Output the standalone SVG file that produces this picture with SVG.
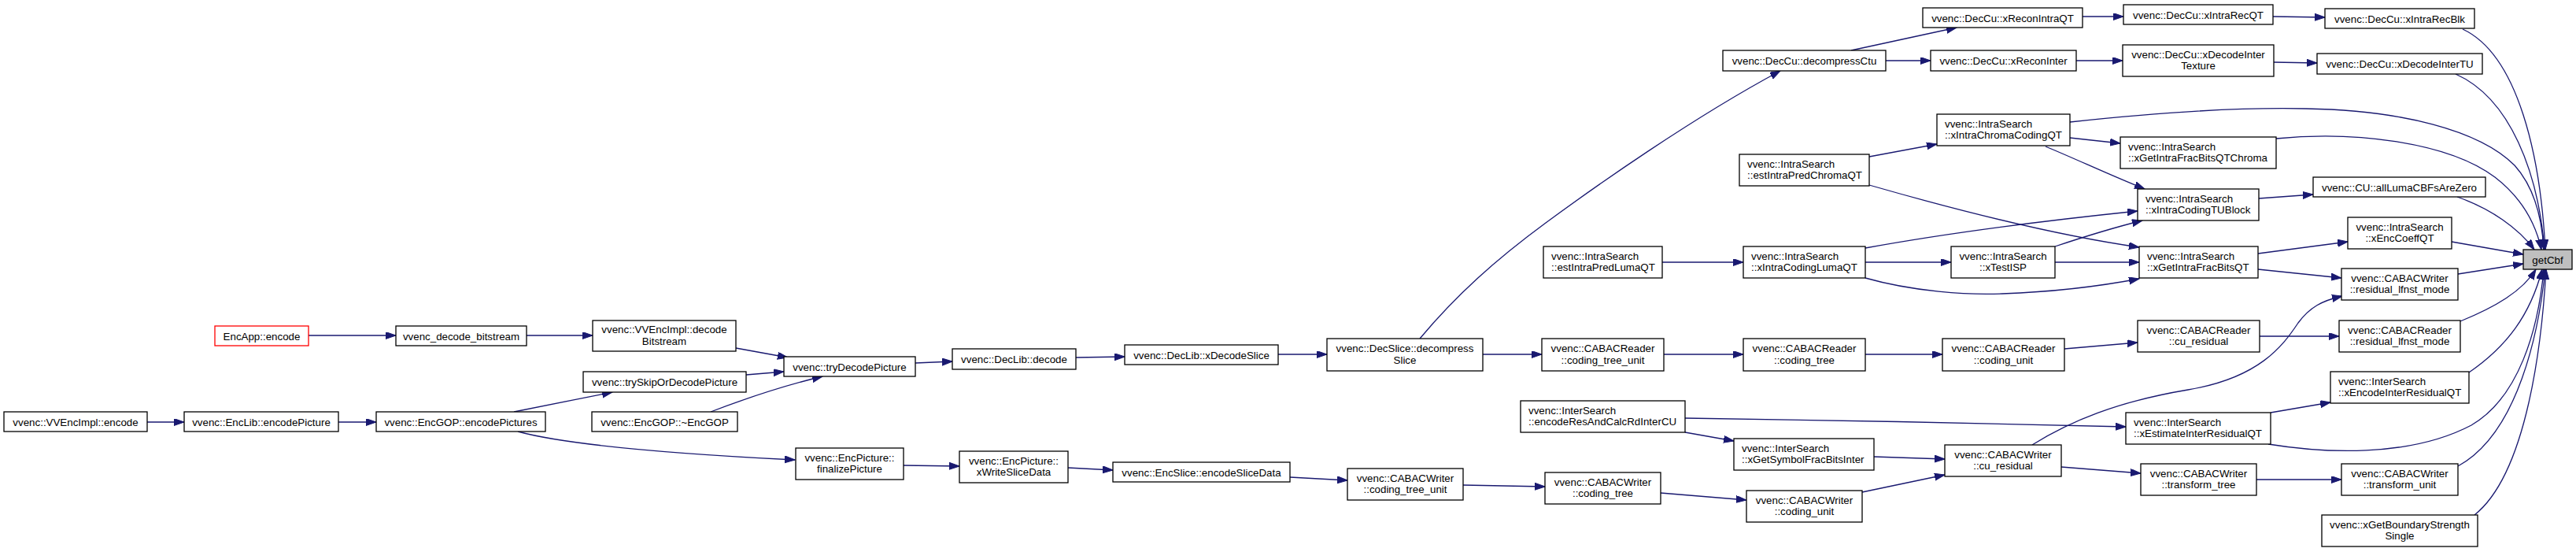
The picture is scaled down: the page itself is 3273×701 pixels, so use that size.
<svg xmlns="http://www.w3.org/2000/svg" width="3273" height="701" viewBox="0 0 3273 701">
<defs>
<style>
.n rect{fill:#fff;stroke:#000;stroke-width:1.3}
.n text{font-family:"Liberation Sans",Arial,sans-serif;font-size:13.33px;fill:#000}
.c{text-anchor:middle}
.e path{fill:none;stroke:#191970;stroke-width:1.3;marker-end:url(#arr)}
</style>
<marker id="arr" markerWidth="14" markerHeight="10" refX="13" refY="4.5" orient="auto" markerUnits="userSpaceOnUse"><path d="M0,0 L13,4.5 L0,9 z" fill="#191970" stroke="#191970" stroke-width="1"/></marker>
</defs>
<rect width="3273" height="701" fill="#fff"/>
<g class="e" id="connectors">
<path d="M392,426 L503,426"/>
<path d="M669,426 L753,426"/>
<path d="M935,442 L1001,454"/>
<path d="M948,476 L996,472"/>
<path d="M903,523 C950,505 995,490 1045,478"/>
<path d="M653,523 L778,498"/>
<path d="M658,548 C720,565 850,576 1010,584"/>
<path d="M186,536 L234,536"/>
<path d="M430,536 L478,536"/>
<path d="M1163,461 L1210,459"/>
<path d="M1367,454 L1429,453"/>
<path d="M1624,450 L1686,450"/>
<path d="M1804,430 C1850,375 1900,330 1964,283 S2150,150 2262,90"/>
<path d="M1884,450 L1959,450"/>
<path d="M1148,591 L1219,592"/>
<path d="M1357,594 L1414,597"/>
<path d="M1639,606 L1712,610"/>
<path d="M1859,616 L1963,618"/>
<path d="M2110,626 L2219,635"/>
<path d="M2366,625 L2471,603"/>
<path d="M2114,450 L2215,450"/>
<path d="M2370,450 L2468,450"/>
<path d="M2623,443 L2716,435"/>
<path d="M2871,427 L2972,427"/>
<path d="M3126,408 C3170,390 3205,370 3222,342"/>
<path d="M2141,549 L2203,560"/>
<path d="M2141,531 C2300,533 2550,538 2701,542"/>
<path d="M2381,580 L2471,583"/>
<path d="M2582,565 C2630,535 2690,510 2780,495 C2870,480 2900,440 2920,410 C2935,390 2950,382 2976,376"/>
<path d="M2619,593 L2720,601"/>
<path d="M2885,524 L2961,511"/>
<path d="M2882,564 C2950,575 3060,582 3140,540 C3200,505 3225,420 3232,342"/>
<path d="M3137,473 C3185,440 3215,400 3230,342"/>
<path d="M2867,609 L2975,609"/>
<path d="M3123,592 C3200,550 3226,420 3234,342"/>
<path d="M3144,654 C3212,600 3230,430 3235,342"/>
<path d="M3123,348 L3206,335"/>
<path d="M2869,342 L2975,353"/>
<path d="M2869,322 L2983,307"/>
<path d="M3115,307 L3206,323"/>
<path d="M2870,252 L2939,247"/>
<path d="M3122,250 C3165,265 3200,290 3220,317"/>
<path d="M3129,37 C3200,70 3228,200 3234,317"/>
<path d="M3120,94 C3190,125 3225,220 3233,317"/>
<path d="M2630,155 C2740,143 2840,136 2930,138 C3050,140 3150,165 3195,210 C3222,240 3230,280 3232,317"/>
<path d="M2892,176 C2990,166 3110,180 3170,225 C3205,252 3222,285 3229,317"/>
<path d="M2630,175 L2694,182"/>
<path d="M2599,186 C2640,203 2680,222 2725,240"/>
<path d="M2375,199 L2461,183"/>
<path d="M2375,235 C2490,268 2620,300 2718,314"/>
<path d="M2112,333 L2215,333"/>
<path d="M2370,333 L2479,333"/>
<path d="M2370,315 C2480,295 2600,280 2716,268"/>
<path d="M2370,353 C2430,370 2500,375 2544,373 C2600,371 2660,365 2718,354"/>
<path d="M2611,313 C2650,300 2690,288 2722,280"/>
<path d="M2611,333 L2718,333"/>
<path d="M2352,64 L2486,35"/>
<path d="M2396,77 L2453,77"/>
<path d="M2646,21 L2698,21"/>
<path d="M2888,21 L2954,22"/>
<path d="M2638,77 L2697,77"/>
<path d="M2889,79 L2944,80"/>
</g>
<g class="n" id="getCbf"><rect x="3206" y="317" width="62" height="25" style="fill:#bfbfbf"/><text class="c" x="3237" y="334.5">getCbf</text></g>
<g class="n" id="xIntraRecBlk"><rect x="2954" y="11" width="190" height="25"/><text class="c" x="3049" y="28.5">vvenc::DecCu::xIntraRecBlk</text></g>
<g class="n" id="xIntraRecQT"><rect x="2698" y="6" width="190" height="25"/><text class="c" x="2793" y="23.5">vvenc::DecCu::xIntraRecQT</text></g>
<g class="n" id="xReconIntraQT"><rect x="2443" y="10" width="203" height="25"/><text class="c" x="2544.5" y="27.5">vvenc::DecCu::xReconIntraQT</text></g>
<g class="n" id="decompressCtu"><rect x="2189" y="64" width="207" height="26"/><text class="c" x="2292.5" y="82">vvenc::DecCu::decompressCtu</text></g>
<g class="n" id="xReconInter"><rect x="2453" y="64" width="185" height="26"/><text class="c" x="2545.5" y="82">vvenc::DecCu::xReconInter</text></g>
<g class="n" id="xDecodeInterTexture"><rect x="2697" y="57" width="192" height="40"/><text class="c" x="2793" y="73.5">vvenc::DecCu::xDecodeInter</text><text class="c" x="2793" y="88">Texture</text></g>
<g class="n" id="xDecodeInterTU"><rect x="2944" y="68" width="210" height="26"/><text class="c" x="3049" y="86">vvenc::DecCu::xDecodeInterTU</text></g>
<g class="n" id="xIntraChromaCodingQT"><rect x="2461" y="145" width="169" height="40"/><text x="2471" y="161.5">vvenc::IntraSearch</text><text x="2471" y="176">::xIntraChromaCodingQT</text></g>
<g class="n" id="xGetIntraFracBitsQTChroma"><rect x="2694" y="174" width="198" height="40"/><text x="2704" y="190.5">vvenc::IntraSearch</text><text x="2704" y="205">::xGetIntraFracBitsQTChroma</text></g>
<g class="n" id="estIntraPredChromaQT"><rect x="2210" y="196" width="165" height="40"/><text x="2220" y="212.5">vvenc::IntraSearch</text><text x="2220" y="227">::estIntraPredChromaQT</text></g>
<g class="n" id="allLumaCBFsAreZero"><rect x="2939" y="225" width="219" height="25"/><text class="c" x="3048.5" y="242.5">vvenc::CU::allLumaCBFsAreZero</text></g>
<g class="n" id="xIntraCodingTUBlock"><rect x="2716" y="240" width="154" height="40"/><text x="2726" y="256.5">vvenc::IntraSearch</text><text x="2726" y="271">::xIntraCodingTUBlock</text></g>
<g class="n" id="xEncCoeffQT"><rect x="2983" y="276" width="132" height="40"/><text class="c" x="3049" y="292.5">vvenc::IntraSearch</text><text class="c" x="3049" y="307">::xEncCoeffQT</text></g>
<g class="n" id="estIntraPredLumaQT"><rect x="1961" y="313" width="151" height="40"/><text x="1971" y="329.5">vvenc::IntraSearch</text><text x="1971" y="344">::estIntraPredLumaQT</text></g>
<g class="n" id="xIntraCodingLumaQT"><rect x="2215" y="313" width="155" height="40"/><text x="2225" y="329.5">vvenc::IntraSearch</text><text x="2225" y="344">::xIntraCodingLumaQT</text></g>
<g class="n" id="xTestISP"><rect x="2479" y="313" width="132" height="40"/><text class="c" x="2545" y="329.5">vvenc::IntraSearch</text><text class="c" x="2545" y="344">::xTestISP</text></g>
<g class="n" id="xGetIntraFracBitsQT"><rect x="2718" y="313" width="151" height="40"/><text x="2728" y="329.5">vvenc::IntraSearch</text><text x="2728" y="344">::xGetIntraFracBitsQT</text></g>
<g class="n" id="cw_residual_lfnst_mode"><rect x="2975" y="341" width="148" height="40"/><text class="c" x="3049" y="357.5">vvenc::CABACWriter</text><text class="c" x="3049" y="372">::residual_lfnst_mode</text></g>
<g class="n" id="cr_cu_residual"><rect x="2716" y="407" width="155" height="40"/><text class="c" x="2793.5" y="423.5">vvenc::CABACReader</text><text class="c" x="2793.5" y="438">::cu_residual</text></g>
<g class="n" id="cr_residual_lfnst_mode"><rect x="2972" y="407" width="154" height="40"/><text class="c" x="3049" y="423.5">vvenc::CABACReader</text><text class="c" x="3049" y="438">::residual_lfnst_mode</text></g>
<g class="n" id="xEncodeInterResidualQT"><rect x="2961" y="472" width="176" height="40"/><text x="2971" y="488.5">vvenc::InterSearch</text><text x="2971" y="503">::xEncodeInterResidualQT</text></g>
<g class="n" id="xEstimateInterResidualQT"><rect x="2701" y="524" width="184" height="40"/><text x="2711" y="540.5">vvenc::InterSearch</text><text x="2711" y="555">::xEstimateInterResidualQT</text></g>
<g class="n" id="transform_tree"><rect x="2720" y="589" width="147" height="40"/><text class="c" x="2793.5" y="605.5">vvenc::CABACWriter</text><text class="c" x="2793.5" y="620">::transform_tree</text></g>
<g class="n" id="transform_unit"><rect x="2975" y="589" width="148" height="40"/><text class="c" x="3049" y="605.5">vvenc::CABACWriter</text><text class="c" x="3049" y="620">::transform_unit</text></g>
<g class="n" id="xGetBoundaryStrengthSingle"><rect x="2950" y="654" width="198" height="40"/><text class="c" x="3049" y="670.5">vvenc::xGetBoundaryStrength</text><text class="c" x="3049" y="685">Single</text></g>
<g class="n" id="cr_coding_tree_unit"><rect x="1959" y="430" width="155" height="41"/><text class="c" x="2036.5" y="447">vvenc::CABACReader</text><text class="c" x="2036.5" y="461.5">::coding_tree_unit</text></g>
<g class="n" id="cr_coding_tree"><rect x="2215" y="430" width="155" height="41"/><text class="c" x="2292.5" y="447">vvenc::CABACReader</text><text class="c" x="2292.5" y="461.5">::coding_tree</text></g>
<g class="n" id="cr_coding_unit"><rect x="2468" y="430" width="155" height="41"/><text class="c" x="2545.5" y="447">vvenc::CABACReader</text><text class="c" x="2545.5" y="461.5">::coding_unit</text></g>
<g class="n" id="encodeResAndCalcRdInterCU"><rect x="1932" y="509" width="209" height="40"/><text x="1942" y="525.5">vvenc::InterSearch</text><text x="1942" y="540">::encodeResAndCalcRdInterCU</text></g>
<g class="n" id="xGetSymbolFracBitsInter"><rect x="2203" y="557" width="178" height="40"/><text x="2213" y="573.5">vvenc::InterSearch</text><text x="2213" y="588">::xGetSymbolFracBitsInter</text></g>
<g class="n" id="cw_cu_residual"><rect x="2471" y="565" width="148" height="40"/><text class="c" x="2545" y="581.5">vvenc::CABACWriter</text><text class="c" x="2545" y="596">::cu_residual</text></g>
<g class="n" id="cw_coding_tree"><rect x="1963" y="600" width="147" height="40"/><text class="c" x="2036.5" y="616.5">vvenc::CABACWriter</text><text class="c" x="2036.5" y="631">::coding_tree</text></g>
<g class="n" id="cw_coding_unit"><rect x="2219" y="623" width="147" height="40"/><text class="c" x="2292.5" y="639.5">vvenc::CABACWriter</text><text class="c" x="2292.5" y="654">::coding_unit</text></g>
<g class="n" id="cw_coding_tree_unit"><rect x="1712" y="595" width="147" height="40"/><text class="c" x="1785.5" y="611.5">vvenc::CABACWriter</text><text class="c" x="1785.5" y="626">::coding_tree_unit</text></g>
<g class="n" id="encodeSliceData"><rect x="1414" y="587" width="225" height="25"/><text class="c" x="1526.5" y="604.5">vvenc::EncSlice::encodeSliceData</text></g>
<g class="n" id="xWriteSliceData"><rect x="1219" y="573" width="138" height="40"/><text class="c" x="1288" y="589.5">vvenc::EncPicture::</text><text class="c" x="1288" y="604">xWriteSliceData</text></g>
<g class="n" id="finalizePicture"><rect x="1011" y="569" width="137" height="40"/><text class="c" x="1079.5" y="585.5">vvenc::EncPicture::</text><text class="c" x="1079.5" y="600">finalizePicture</text></g>
<g class="n" id="decompressSlice"><rect x="1686" y="430" width="198" height="41"/><text class="c" x="1785" y="447">vvenc::DecSlice::decompress</text><text class="c" x="1785" y="461.5">Slice</text></g>
<g class="n" id="xDecodeSlice"><rect x="1429" y="438" width="195" height="25"/><text class="c" x="1526.5" y="455.5">vvenc::DecLib::xDecodeSlice</text></g>
<g class="n" id="decode"><rect x="1210" y="443" width="157" height="26"/><text class="c" x="1288.5" y="461">vvenc::DecLib::decode</text></g>
<g class="n" id="tryDecodePicture"><rect x="996" y="453" width="167" height="25"/><text class="c" x="1079.5" y="470.5">vvenc::tryDecodePicture</text></g>
<g class="n" id="decodeBitstream"><rect x="753" y="407" width="182" height="39"/><text class="c" x="844" y="423">vvenc::VVEncImpl::decode</text><text class="c" x="844" y="437.5">Bitstream</text></g>
<g class="n" id="trySkipOrDecodePicture"><rect x="741" y="472" width="207" height="26"/><text class="c" x="844.5" y="490">vvenc::trySkipOrDecodePicture</text></g>
<g class="n" id="EncGOPdtor"><rect x="752" y="523" width="185" height="25"/><text class="c" x="844.5" y="540.5">vvenc::EncGOP::~EncGOP</text></g>
<g class="n" id="encodePictures"><rect x="478" y="523" width="215" height="25"/><text class="c" x="585.5" y="540.5">vvenc::EncGOP::encodePictures</text></g>
<g class="n" id="encodePicture"><rect x="234" y="523" width="196" height="25"/><text class="c" x="332" y="540.5">vvenc::EncLib::encodePicture</text></g>
<g class="n" id="VVEncImpl_encode"><rect x="5" y="523" width="182" height="25"/><text class="c" x="96" y="540.5">vvenc::VVEncImpl::encode</text></g>
<g class="n" id="vvenc_decode_bitstream"><rect x="503" y="414" width="166" height="25"/><text class="c" x="586" y="431.5">vvenc_decode_bitstream</text></g>
<g class="n" id="EncApp_encode"><rect x="273" y="414" width="119" height="25" style="stroke:#ff0000"/><text class="c" x="332.5" y="431.5">EncApp::encode</text></g>
</svg>
